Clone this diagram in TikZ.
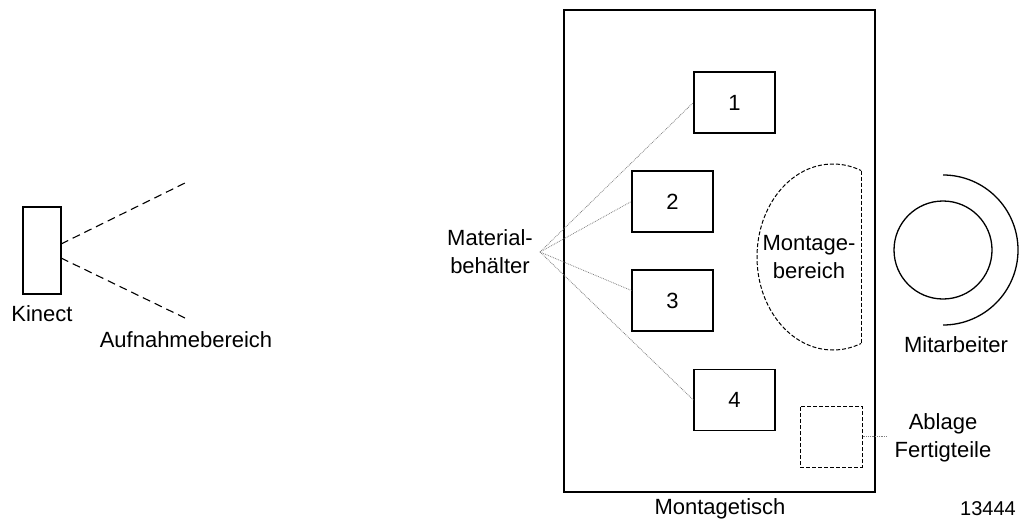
\documentclass[tikz,border=0pt]{standalone}
\usepackage{fontspec}
\setmainfont{Liberation Sans}
\begin{document}
\begin{tikzpicture}[x=1pt,y=-1pt,
  lbl/.style={font=\fontsize{22}{28}\selectfont, inner sep=0pt, align=center},
  solidbox/.style={draw, line width=1.3pt},
  fovline/.style={line width=1.1pt, dash pattern=on 8pt off 5pt},
  arealine/.style={line width=1pt, dash pattern=on 4pt off 2pt},
  pointer/.style={line width=0.8pt, gray, densely dotted}]
\useasboundingbox (0,0) rectangle (1019,522);

% Kinect sensor and its field of view
\node[solidbox, minimum width=38pt, minimum height=87pt, inner sep=0pt] (kinect) at (42,250.5) {};
\coordinate (fovtop) at (185,183);
\coordinate (fovbot) at (185,318);
\draw[fovline] (61,244) -- (fovtop);
\draw[fovline] (61,258) -- (fovbot);
\node[lbl] (kinectlbl) at (42,314) {Kinect};
\node[lbl] (fovlbl) at (186,340) {Aufnahmebereich};

% assembly table
\node[solidbox, minimum width=311pt, minimum height=482pt, inner sep=0pt] (table) at (719.5,251) {};
\node[lbl] (tablelbl) at (720,509) {Montagetisch};

% material bins
\tikzset{bin/.style={solidbox, minimum width=81pt, minimum height=61pt, inner sep=0pt, font=\fontsize{22}{26}\selectfont}}
\node[bin] (b1) at (734.5,102.5) {1};
\node[bin] (b2) at (672.5,201.5) {2};
\node[bin] (b3) at (672.5,300.5) {3};
\node[bin] (b4) at (734.5,400) {4};

\node[lbl] (matlbl) at (490,252) {Material-\\behälter};
\coordinate (matpt) at (540,252);
\draw[pointer] (matpt) -- (b1.west);
\draw[pointer] (matpt) -- (b2.west);
\draw[pointer] (matpt) -- ([yshift=10pt]b3.west);
\draw[pointer] (matpt) -- (b4.west);

% assembly area: ellipse cut off on its right side
\begin{scope}
  \clip (740,150) rectangle (861,360);
  \draw[arealine] (833,257) ellipse [x radius=76, y radius=93];
\end{scope}
\draw[arealine] (861,170.5) -- (861,343.5);
\node[lbl] (arealbl) at (809,257) {Montage-\\bereich};

% worker
\node[draw, circle, line width=1.3pt, minimum size=98pt, inner sep=0pt] (worker) at (943,250) {};
\draw[line width=1.3pt] (943,175) arc[start angle=-90, end angle=90, radius=75];
\node[lbl] (workerlbl) at (956,345) {Mitarbeiter};

% tray for finished parts
\node[arealine, draw, minimum width=62pt, minimum height=61pt, inner sep=0pt] (tray) at (831,436.5) {};
\coordinate (traypt) at (887,436.5);
\draw[pointer] (tray.east) -- (traypt);
\node[lbl] (traylbl) at (943,438) {Ablage\\Fertigteile};

\node[font=\fontsize{20}{22}\selectfont, inner sep=0pt] (num) at (988,509) {13444};
\end{tikzpicture}
\end{document}
